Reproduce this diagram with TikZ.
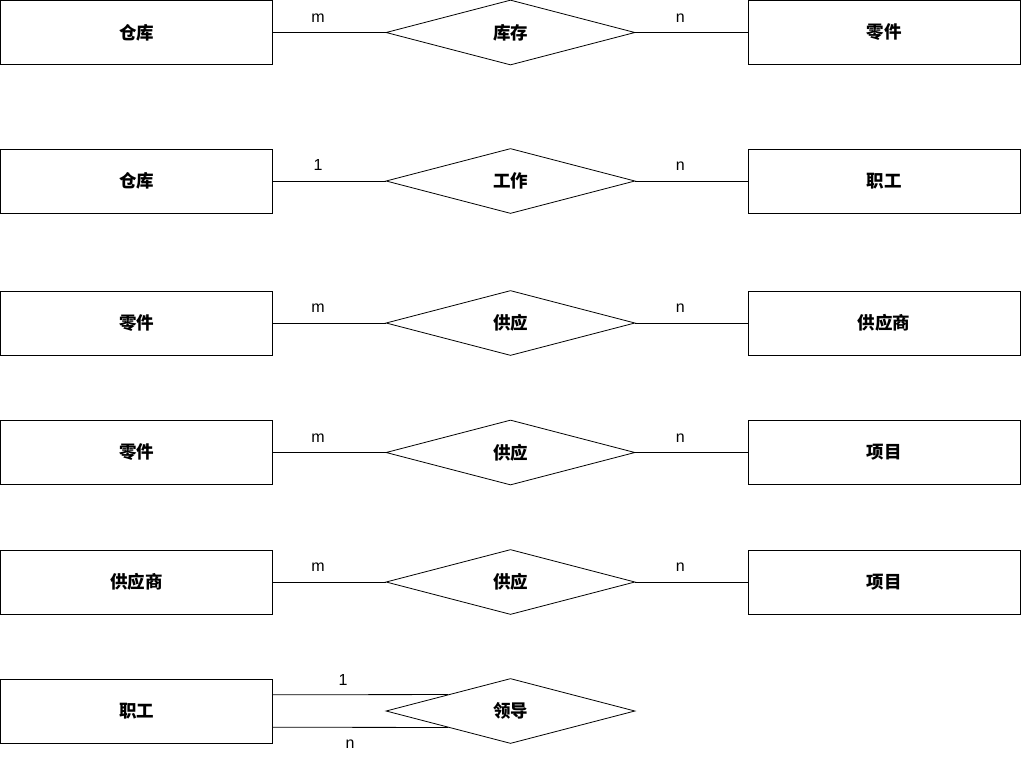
\documentclass[tikz,border=0pt]{standalone}
\usepackage{fontspec}
\setmainfont{Liberation Sans}
\newfontfamily\cjk{Noto Sans CJK SC}
\usetikzlibrary{shapes.geometric,calc}
\begin{document}
\begin{tikzpicture}[x=1pt,y=-1pt,
  entity/.style={draw, line width=1pt, minimum width=272pt, minimum height=64pt, inner sep=0pt, font=\fontsize{17.5}{19}\selectfont\cjk\bfseries},
  rel/.style={draw, line width=0.8pt, diamond, aspect=3.83, minimum width=249pt, minimum height=65pt, inner sep=0pt, font=\fontsize{17.5}{19}\selectfont\cjk\bfseries},
  conn/.style={draw, line width=0.8pt},
  card/.style={font=\fontsize{16}{18}\selectfont, inner sep=0pt}]
\useasboundingbox (0,0) rectangle (1021,761);
% rows
\foreach \i/\y/\l/\r/\rr/\cl/\cr in {1/32.5/仓库/库存/零件/m/n, 2/181/仓库/工作/职工/1/n, 3/323/零件/供应/供应商/m/n, 4/452.5/零件/供应/项目/m/n, 5/582/供应商/供应/项目/m/n}{
  \node[entity] (l\i) at (136.5,\y) {\l};
  \node[rel] (d\i) at (510.5,\y) {\r};
  \node[entity] (r\i) at (884,\y) {\rr};
  \draw[conn] (l\i.east) -- (d\i.west) node[card, pos=0.4, above=10pt] {\cl};
  \draw[conn] (d\i.east) -- (r\i.west) node[card, pos=0.4, above=10pt] {\cr};
}
\node[entity] (l6) at (136.5,711) {职工};
\node[rel] (d6) at (510.5,711) {领导};
\draw[conn] ($(l6.north east)!0.25!(l6.south east)$) -- ($(d6.west)!0.5!(d6.north)$) node[card, pos=0.4, above=9pt] {1};
\draw[conn] ($(l6.north east)!0.75!(l6.south east)$) -- ($(d6.west)!0.5!(d6.south)$) node[card, pos=0.44, below=12pt] {n};
\end{tikzpicture}
\end{document}
